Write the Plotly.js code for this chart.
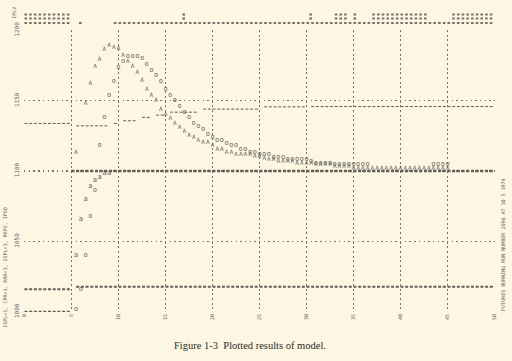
<!DOCTYPE html>
<html>
<head>
<meta charset="utf-8">
<script src="https://cdn.plot.ly/plotly-3.0.1.min.js"></script>
<style>
  html, body { margin: 0; padding: 0; background: #fcf6e2; }
  #chart { width: 512px; height: 361px; }
</style>
</head>
<body>
<div id="chart"></div>
<script>
// Time axis (printer columns) and level axis
const xTicks = [0, 5, 10, 15, 20, 25, 30, 35, 40, 45, 50];
const xTickText = ["0", "5", "10", "15", "20", "25", "30", "35", "40", "45", "50"];
const yTicks = [1000, 1050, 1100, 1150, 1200];
const yTickText = ["1000", "1050", "1100", "1150", "1200"];

// Series "A": sharp rise, peak near x = 9, long decay
const aX = [5.5, 6.5, 7, 7.5, 8, 8.5, 9, 9.5, 10, 10.5, 11, 11.5, 12, 12.5, 13, 13.5, 14, 14.5, 15, 15.5,
            16, 16.5, 17, 17.5, 18, 18.5, 19, 19.5, 20, 20.5, 21, 21.5, 22, 22.5, 23, 23.5, 24, 24.5, 25, 25.5,
            26, 26.5, 27, 27.5, 28, 28.5, 29, 29.5, 30, 30.5, 31, 31.5, 32, 32.5, 33, 33.5, 34, 34.5,
            35, 35.5, 36, 36.5, 37, 37.5, 38, 38.5, 39, 39.5, 40, 40.5, 41, 41.5, 42, 42.5, 43, 43.5, 44, 44.5, 45];
const aY = [1113.5, 1148, 1162, 1174, 1179, 1186, 1189, 1188, 1187, 1182, 1178, 1174, 1170, 1164, 1158, 1154, 1150, 1144, 1140, 1137,
            1134, 1131, 1128, 1125.5, 1123.5, 1121.5, 1120, 1120, 1118, 1115.5, 1115.5, 1113.5, 1113.5, 1112, 1111.5, 1111.5, 1111.5, 1110, 1110, 1109,
            1108.5, 1108, 1107, 1107, 1106.5, 1106.5, 1105.5, 1105.5, 1105.5, 1105.5, 1104.5, 1104.5, 1104.5, 1104.5, 1103.5, 1103.5, 1103.5, 1103.5,
            1101.5, 1101.5, 1101.5, 1101.5, 1101.5, 1101.5, 1101.5, 1101.5, 1101.5, 1101.5, 1101.5, 1101.5, 1101.5, 1101.5, 1101.5, 1101.5, 1101.5, 1101.5, 1101.5, 1101.5, 1101.5];

// Series "o": starts at the floor, peaks near x = 11.5, slower decay
const oX = [5.5, 6, 6.5, 7, 7.5, 8, 8.5, 9, 9.5, 10, 10.5, 11, 11.5, 12, 12.5, 13, 13.5, 14, 14.5, 15,
            15.5, 16, 16.5, 17, 17.5, 18, 18.5, 19, 19.5, 20, 20.5, 21, 21.5, 22, 22.5, 23, 23.5, 24, 24.5, 25,
            25.5, 26, 26.5, 27, 27.5, 28, 28.5, 29, 29.5, 30, 30.5, 31, 31.5, 32, 32.5, 33, 33.5, 34, 34.5,
            35, 35.5, 36, 36.5, 43.5, 44, 44.5, 45];
const oY = [1002, 1016, 1040, 1068, 1086, 1118, 1138, 1154, 1164, 1174, 1178, 1181.5, 1181.5, 1181.5, 1180, 1176, 1171.5, 1168, 1164, 1158,
            1154, 1150.5, 1146, 1142, 1138.5, 1134, 1132, 1130, 1126, 1124, 1122, 1122, 1120, 1118, 1118, 1115.5, 1115.5, 1113.5, 1113.5, 1112,
            1112, 1112, 1110, 1110, 1110, 1108, 1108, 1108, 1108, 1108, 1107, 1105.5, 1105.5, 1105.5, 1105.5, 1105, 1105, 1105, 1105,
            1104.5, 1104.5, 1104.5, 1104.5, 1104.5, 1104.5, 1104.5, 1104.5];

// Series "a": short climb onto the 1100 level
const bX = [5.5, 6, 6.5, 7, 7.5, 8, 8.5, 9];
const bY = [1040, 1066, 1080, 1089, 1093.5, 1095.5, 1098.5, 1098.5];

// Step series printed with dashes: [start, end, level]
const stepStart = [0, 5.5, 9.5, 10.5, 12.5, 14, 15.5, 19, 25.5, 30.5];
const stepEnd   = [5, 9, 10, 12, 13.5, 15, 18.5, 25, 30, 50];
const stepLevel = [1133.8, 1132.1, 1133.8, 1135.7, 1138.1, 1139.7, 1141.8, 1144, 1145.6, 1145.8];

// Constant rows printed across the chart: [start, end, level]
const rowStart = [5, 0, 5.5, 0];
const rowEnd   = [50, 5, 50, 5];
const rowLevel = [1100, 1016, 1017.7, 1000];

// Off-scale markers printed above the top line: [start, end, print row]
const overStart = [0, 9.5, 6, 0, 17, 30.5, 33, 35, 37, 45.5, 0, 17, 30.5, 33, 35, 37, 45.5];
const overEnd   = [5, 50, 6, 5, 17, 30.5, 34.5, 35.5, 43, 50, 5, 17, 30.5, 34.5, 35.5, 43, 50];
const overRow   = [1, 1, 1, 2, 2, 2, 2, 2, 2, 2, 3, 3, 3, 3, 3, 3, 3];

const ink = "#615e58";
const mono = "DejaVu Sans Mono, Liberation Mono, monospace";

// step segments joined with gaps
const stepXs = [], stepYs = [];
stepStart.forEach((s, i) => {
  stepXs.push(s, stepEnd[i], null);
  stepYs.push(stepLevel[i], stepLevel[i], null);
});

const traces = [
  {
    x: stepXs, y: stepYs, mode: "lines", type: "scatter",
    line: { color: ink, width: 1, dash: "3px,1.7px" },
    hoverinfo: "skip", connectgaps: false
  },
  {
    x: aX, y: aY, mode: "text", type: "scatter", text: aX.map(() => "A"),
    textfont: { family: mono, size: 6, color: ink }, textposition: "middle center"
  },
  {
    x: oX, y: oY, mode: "text", type: "scatter", text: oX.map(() => "o"),
    textfont: { family: mono, size: 7, color: ink }, textposition: "middle center"
  },
  {
    x: bX, y: bY, mode: "text", type: "scatter", text: bX.map(() => "a"),
    textfont: { family: mono, size: 7, color: ink }, textposition: "middle center"
  }
];

const shapes = [];
rowStart.forEach((s, i) => {
  shapes.push({
    type: "line", xref: "x", yref: "y",
    x0: s, x1: rowEnd[i], y0: rowLevel[i], y1: rowLevel[i],
    line: { color: ink, width: i === 0 ? 2.6 : 2, dash: "3px,1.7px" }
  });
});
// print rows above the plot, in paper units
const overPaper = { 1: 1.0248, 2: 1.0408, 3: 1.055 };
overStart.forEach((s, i) => {
  const pad = overEnd[i] === s ? 0.2 : 0;
  shapes.push({
    type: "line", xref: "x", yref: "paper",
    x0: s - pad, x1: overEnd[i] + pad, y0: overPaper[overRow[i]], y1: overPaper[overRow[i]],
    line: { color: "#77736c", width: 2.2, dash: "2.6px,2.1px" }
  });
});

const layout = {
  width: 512, height: 361,
  margin: { l: 24, r: 17, t: 30, b: 49 },
  paper_bgcolor: "#fcf6e2",
  plot_bgcolor: "#fcf6e2",
  showlegend: false,
  font: { family: mono, color: "#666" },
  xaxis: {
    range: [-0.05, 50.05], tickvals: xTicks, ticktext: xTickText,
    tickangle: -90, tickfont: { size: 5, color: "#666" },
    showgrid: true, gridcolor: "#74706a", gridwidth: 1, griddash: "2px,2.7px",
    zeroline: false, showline: false, ticks: ""
  },
  yaxis: {
    range: [999.8, 1200.2], tickvals: yTicks, ticktext: yTickText,
    tickangle: -90, tickfont: { size: 6, color: "#666" },
    showgrid: true, gridcolor: "#74706a", gridwidth: 1.4, griddash: "1.4px,3.3px",
    zeroline: false, showline: false, ticks: "", ticklabelstandoff: 3
  },
  shapes: shapes,
  annotations: [
    {
      text: "Figure 1-3  Plotted results of model.",
      xref: "paper", yref: "paper", x: 0.48, y: -0.12,
      xanchor: "center", yanchor: "middle", showarrow: false,
      font: { family: "Liberation Serif, DejaVu Serif, serif", size: 10.5, color: "#2e2b27" }
    },
    {
      text: "ISPL=1, CPR=1, KRR=1, ISPL=1, PKPV, IPSO",
      xref: "paper", yref: "paper", x: -0.041, y: 0.156,
      textangle: -90, xanchor: "center", yanchor: "middle", showarrow: false,
      font: { family: mono, size: 5, color: "#666" }
    },
    {
      text: "FUTURES BURNING RUN NUMBER 2696 AT 10 5 1974",
      xref: "paper", yref: "paper", x: 1.017, y: 0.238,
      textangle: -90, xanchor: "center", yanchor: "middle", showarrow: false,
      font: { family: mono, size: 5, color: "#666" }
    },
    {
      text: "IPLV",
      xref: "paper", yref: "paper", x: -0.022, y: 1.06,
      textangle: -90, xanchor: "center", yanchor: "middle", showarrow: false,
      font: { family: mono, size: 5, color: "#666" }
    }
  ]
};

Plotly.newPlot("chart", traces, layout, { staticPlot: true, displayModeBar: false });
</script>
</body>
</html>
